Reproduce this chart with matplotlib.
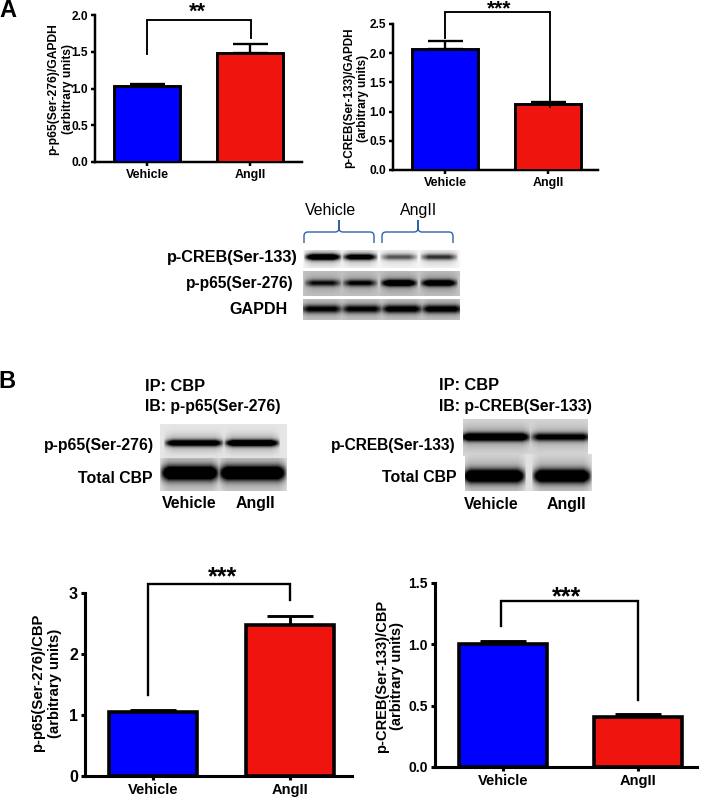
"""Western blot and densitometry figure, panels A and B."""

import matplotlib
matplotlib.use('Agg')
import matplotlib.pyplot as plt
import numpy as np
from matplotlib.patches import PathPatch
from matplotlib.path import Path

plt.rcParams['font.family'] = ['Liberation Sans', 'DejaVu Sans']
plt.rcParams['font.weight'] = 'bold'

W, H = 709, 800
BLUE = '#0000ff'
RED = '#f0140f'
BRACE = '#2f62a8'

groups = ['Vehicle', 'AngII']

# densitometry values
a1_means = [1.04, 1.48]
a1_errs = [0.02, 0.12]
a1_ticks = [0.0, 0.5, 1.0, 1.5, 2.0]
a1_labels = ['0.0', '0.5', '1.0', '1.5', '2.0']
a1_bracket = [1.47, 1.93, 1.93, 1.69]

a2_means = [2.07, 1.13]
a2_errs = [0.14, 0.04]
a2_ticks = [0.0, 0.5, 1.0, 1.5, 2.0, 2.5]
a2_labels = ['0.0', '0.5', '1.0', '1.5', '2.0', '2.5']
a2_bracket = [2.26, 2.70, 2.70, 1.08]

b1_means = [1.05, 2.47]
b1_errs = [0.04, 0.15]
b1_ticks = [0, 1, 2, 3]
b1_labels = ['0', '1', '2', '3']
b1_bracket = [1.33, 3.15, 3.15, 2.89]

b2_means = [1.00, 0.41]
b2_errs = [0.03, 0.02]
b2_ticks = [0.0, 0.5, 1.0, 1.5]
b2_labels = ['0.0', '0.5', '1.0', '1.5']
b2_bracket = [1.15, 1.35, 1.35, 0.55]

# band darkness per lane, 0 is background and 1 is black
creb_a_bands = [0.95, 0.80, 0.40, 0.50]
p65_a_bands = [0.60, 0.65, 0.95, 0.90]
gapdh_a_bands = [0.65, 0.65, 0.72, 0.72]
p65_b_bands = [0.85, 0.95]
cbp_b1_bands = [1.0, 1.0]
creb_b_bands = [0.95, 0.70]
cbp_b2_bands = [1.0, 1.0]


def bar_panel(fig, x_span, y_span, centers, ymax, bar_w, means, errs, ticks, tick_labels,
              bracket, bracket_x, lw, tick_size, label_size, cap_w):
    """Axes placed by pixel box, x positions are the two group indices."""
    left, right = x_span
    y0, ytop = y_span
    ax = fig.add_axes([left / W, 1 - y0 / H, (right - left) / W, (y0 - ytop) / H])
    step = centers[1] - centers[0]
    ax.set_xlim((left - centers[0]) / step, (right - centers[0]) / step)
    ax.set_ylim(0, ymax)
    ax.patch.set_alpha(0)
    xs = np.arange(len(groups))
    for x, m, e, color in zip(xs, means, errs, [BLUE, RED]):
        ax.errorbar(x, m, yerr=[[0], [e]], color='black', elinewidth=lw * 0.8,
                    capsize=cap_w / 2 * 0.72, capthick=lw * 0.8, zorder=2)
        ax.bar(x, m, width=bar_w / step, color=color, edgecolor='black', linewidth=lw, zorder=3)
    ax.plot([bracket_x[0], bracket_x[0], bracket_x[1], bracket_x[1]], bracket, color='black',
            linewidth=lw * 0.65, clip_on=False, zorder=4, solid_joinstyle='miter')
    for side in ['top', 'right']:
        ax.spines[side].set_visible(False)
    for side in ['left', 'bottom']:
        ax.spines[side].set_linewidth(lw * 0.85)
    ax.set_xticks(xs, groups, fontsize=label_size, fontweight='bold')
    ax.set_yticks(ticks, tick_labels, fontsize=tick_size, fontweight='bold')
    ax.tick_params(axis='both', width=lw * 0.85, length=3, pad=2)
    return ax


def blot(page, box, bg, lanes, strengths, yc, thick):
    """Draw a grey blot strip with soft horizontal bands at pixel box (x0, x1, y0, y1)."""
    x0, x1, y0, y1 = box
    xx, yy = np.meshgrid(np.arange(x0, x1) + 0.5, np.arange(y0, y1) + 0.5)
    dark = np.zeros_like(xx)
    for (a, b), s in zip(lanes, strengths):
        # envelope falls off softly at both ends of the lane
        env = np.clip((xx - a) / 9, 0, 1) * np.clip((b - xx) / 9, 0, 1)
        env = env ** 0.6
        d = yy - yc
        profile = np.exp(-(d / thick) ** 2) + 0.22 * np.exp(-(d / (thick * 2.8)) ** 2)
        dark = np.maximum(dark, np.clip(1.35 * s * env * profile, 0, 1))
    img = np.clip(bg * (1 - dark), 0, 1)
    page.imshow(img, cmap='gray', vmin=0, vmax=1, extent=[x0, x1, y1, y0], aspect='auto',
                interpolation='bilinear', zorder=1)


def brace(page, x0, x1, peak, top, ymid, bottom):
    r = 4
    verts = [(x0, bottom), (x0, ymid + r), (x0, ymid), (x0 + r, ymid), (peak - r, ymid),
             (peak, ymid), (peak, ymid - r), (peak, top), (peak, ymid - r), (peak, ymid),
             (peak + r, ymid), (x1 - r, ymid), (x1, ymid), (x1, ymid + r), (x1, bottom)]
    codes = [Path.MOVETO, Path.LINETO, Path.CURVE3, Path.CURVE3, Path.LINETO,
             Path.CURVE3, Path.CURVE3, Path.LINETO, Path.LINETO, Path.CURVE3,
             Path.CURVE3, Path.LINETO, Path.CURVE3, Path.CURVE3, Path.LINETO]
    page.add_patch(PathPatch(Path(verts, codes), fill=False, edgecolor=BRACE, linewidth=1.0, zorder=3))


def two_line_ylabel(page, x1, x2, yc, line1, line2, size):
    page.text(x1, yc, line1, rotation=90, ha='center', va='center', fontsize=size, fontweight='bold')
    page.text(x2, yc, line2, rotation=90, ha='center', va='center', fontsize=size, fontweight='bold')


fig = plt.figure(figsize=(W / 100, H / 100), dpi=100, facecolor='white')

# page axes in pixel coordinates for blots and free text
page = fig.add_axes([0, 0, 1, 1], zorder=0)

lanes_a = [(304, 342), (342, 378), (380, 418), (420, 458)]
blot(page, (303, 460, 250, 268), 0.96, lanes_a, creb_a_bands, 257, 3.0)
blot(page, (303, 460, 271, 296), 0.76, lanes_a, p65_a_bands, 283, 3.2)
blot(page, (303, 460, 299, 320), 0.80, [(300, 344), (340, 384), (380, 424), (420, 464)], gapdh_a_bands, 309, 4.0)

blot(page, (160, 287, 424, 460), 0.90, [(164, 224), (224, 280)], p65_b_bands, 443, 3.2)
blot(page, (160, 287, 458, 491), 0.88, [(160, 220), (218, 287)], cbp_b1_bands, 473, 7.0)

blot(page, (463, 588, 419, 456), 0.84, [(460, 531), (530, 592)], creb_b_bands, 437, 4.0)
blot(page, (465, 592, 454, 491), 0.88, [(462, 526), (532, 592)], cbp_b2_bands, 476, 6.5)

brace(page, 304, 374, 339, 220, 232, 243)
brace(page, 382, 453, 418, 220, 232, 243)

page.set_xlim(0, W)
page.set_ylim(H, 0)
page.axis('off')

bar_panel(fig, (95, 302), (162, 15), (147, 250), 2.0, 66, a1_means, a1_errs, a1_ticks, a1_labels,
          a1_bracket, (0.0, 1.01), 2.1, 8.6, 9, 35)
bar_panel(fig, (393, 598), (170, 24), (445, 548), 2.5, 66, a2_means, a2_errs, a2_ticks, a2_labels,
          a2_bracket, (0.0, 1.02), 2.1, 8.6, 9, 35)
bar_panel(fig, (85, 352), (776, 593), (153, 290), 3, 88, b1_means, b1_errs, b1_ticks, b1_labels,
          b1_bracket, (-0.04, 1.0), 2.6, 11.5, 10.5, 47)
bar_panel(fig, (435, 697), (767, 583), (503, 638), 1.5, 88, b2_means, b2_errs, b2_ticks, b2_labels,
          b2_bracket, (-0.015, 1.0), 2.6, 10, 10.5, 47)

# overlay for text so nothing is hidden under the chart axes
top = fig.add_axes([0, 0, 1, 1], zorder=10)
top.set_xlim(0, W)
top.set_ylim(H, 0)
top.axis('off')

top.text(8, 17, 'A', ha='center', va='baseline', fontsize=17, fontweight='bold')
top.text(7, 388, 'B', ha='center', va='baseline', fontsize=17, fontweight='bold')

two_line_ylabel(top, 53, 68, 89, 'p-p65(Ser-276)/GAPDH', '(arbitrary units)', 8.7)
two_line_ylabel(top, 349, 363, 98, 'p-CREB(Ser-133)/GAPDH', '(arbitrary units)', 8.5)
two_line_ylabel(top, 38, 55, 683, 'p-p65(Ser-276)/CBP', '(arbitrary units)', 10.7)
two_line_ylabel(top, 382, 397, 676, 'p-CREB(Ser-133)/CBP', '(arbitrary units)', 10.5)

top.text(197, 18, '**', ha='center', va='baseline', fontsize=15.5)
top.text(499, 14, '***', ha='center', va='baseline', fontsize=15)
top.text(223, 584, '***', ha='center', va='baseline', fontsize=18)
top.text(567, 604, '***', ha='center', va='baseline', fontsize=18)

top.text(330, 215, 'Vehicle', ha='center', va='baseline', fontsize=11.4, fontweight='normal')
top.text(419, 215, 'AngII', ha='center', va='baseline', fontsize=11.4, fontweight='normal')
top.text(298, 262, 'p-CREB(Ser-133)', ha='right', va='baseline', fontsize=11.7)
top.text(294, 288, 'p-p65(Ser-276)', ha='right', va='baseline', fontsize=11.2)
top.text(288, 314, 'GAPDH', ha='right', va='baseline', fontsize=11.6)

top.text(145, 391, 'IP: CBP', ha='left', va='baseline', fontsize=11.8)
top.text(145, 411, 'IB: p-p65(Ser-276)', ha='left', va='baseline', fontsize=11.4)
top.text(154, 450, 'p-p65(Ser-276)', ha='right', va='baseline', fontsize=11.4)
top.text(153, 483, 'Total CBP', ha='right', va='baseline', fontsize=11.4)
top.text(189, 508, 'Vehicle', ha='center', va='baseline', fontsize=11.4)
top.text(255, 508, 'AngII', ha='center', va='baseline', fontsize=11.4)

top.text(439, 390, 'IP: CBP', ha='left', va='baseline', fontsize=11.8)
top.text(439, 411, 'IB: p-CREB(Ser-133)', ha='left', va='baseline', fontsize=11.4)
top.text(456, 450, 'p-CREB(Ser-133)', ha='right', va='baseline', fontsize=11.2)
top.text(456, 482, 'Total CBP', ha='right', va='baseline', fontsize=11.4)
top.text(491, 509, 'Vehicle', ha='center', va='baseline', fontsize=11.4)
top.text(566, 509, 'AngII', ha='center', va='baseline', fontsize=11.4)

fig.savefig('out.png', dpi=100)
